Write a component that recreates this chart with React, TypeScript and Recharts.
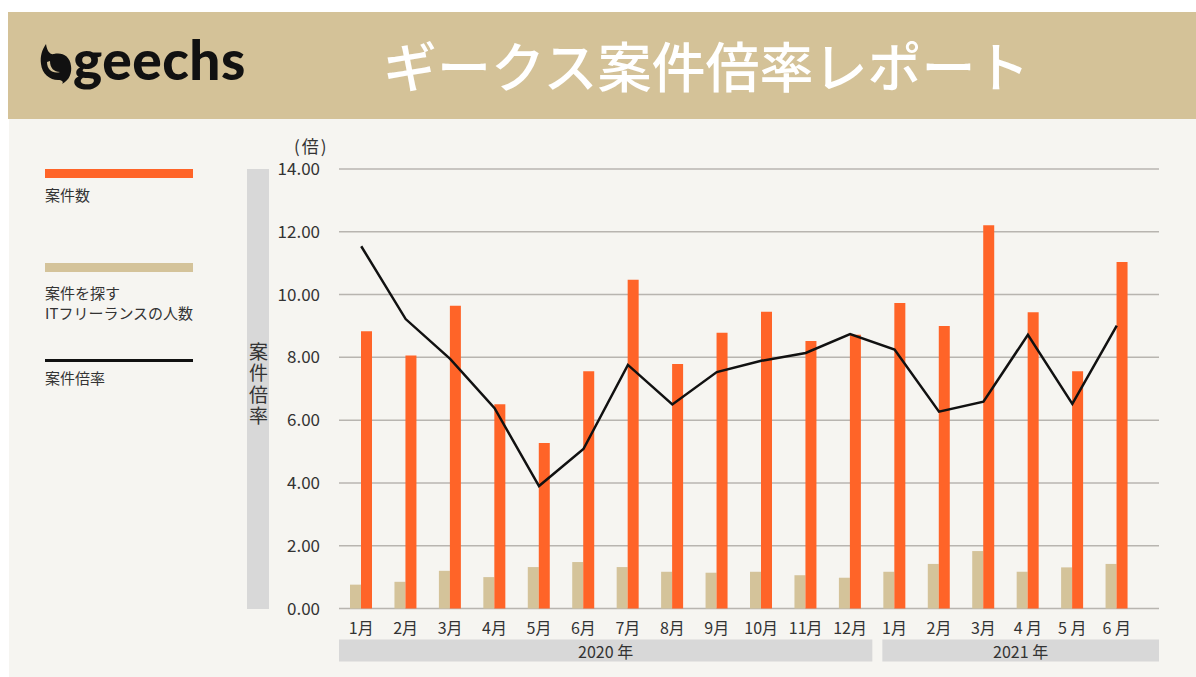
import { ComposedChart, Bar, Line, XAxis, YAxis, CartesianGrid } from 'recharts';

const months = ['1月', '2月', '3月', '4月', '5月', '6月', '7月', '8月', '9月', '10月', '11月', '12月', '1月', '2月', '3月', '4 月', '5 月', '6 月'];
const jobs = [8.83, 8.06, 9.64, 6.51, 5.27, 7.56, 10.47, 7.79, 8.78, 9.45, 8.52, 8.72, 9.73, 9.0, 12.21, 9.44, 7.56, 11.04];
const seekers = [0.76, 0.85, 1.2, 1.0, 1.32, 1.48, 1.32, 1.17, 1.14, 1.17, 1.06, 0.98, 1.17, 1.42, 1.83, 1.17, 1.31, 1.42];
const ratio = [11.54, 9.22, 7.95, 6.38, 3.9, 5.08, 7.76, 6.5, 7.53, 7.89, 8.14, 8.74, 8.25, 6.27, 6.59, 8.72, 6.52, 9.01];
const yTicks = [0, 2, 4, 6, 8, 10, 12, 14];
const years = ['2020 年', '2021 年'];

const data = months.map((m, i) => ({ month: m, key: i, jobs: jobs[i], seekers: seekers[i], ratio: ratio[i] }));

const ORANGE = '#FF6428';
const BEIGE = '#D4C39A';
const FONT = '"Noto Sans CJK JP", "Noto Sans", sans-serif';

// month label + the grey year band (drawn once, by the last month of each year)
function MonthTick(props: any) {
  const { x, y, payload, index } = props;
  const half = payload && payload.offset ? payload.offset : 22.2;
  let band = null;
  if (index === 11) {
    const x0 = x - 23 * half;
    const x1 = x + half;
    band = (
      <g>
        <rect x={x0} y={y + 31} width={x1 - x0} height={22} fill="#D8D8D8" />
        <text x={(x0 + x1) / 2} y={y + 42.5} textAnchor="middle" dominantBaseline="central" fontSize={16} fill="#333" fontFamily={FONT}>
          {years[0]}
        </text>
      </g>
    );
  }
  if (index === 17) {
    const x0 = x - 11 * half + 10;
    const x1 = x + half + 20;
    band = (
      <g>
        <rect x={x0} y={y + 31} width={x1 - x0} height={22} fill="#D8D8D8" />
        <text x={(x0 + x1) / 2} y={y + 42.5} textAnchor="middle" dominantBaseline="central" fontSize={16} fill="#333" fontFamily={FONT}>
          {years[1]}
        </text>
      </g>
    );
  }
  return (
    <g>
      {band}
      <text x={x} y={y + 18} textAnchor="middle" dominantBaseline="central" fontSize={16} fill="#333" fontFamily={FONT}>
        {months[index]}
      </text>
    </g>
  );
}

function Logo() {
  return (
    <div style={{ position: 'absolute', left: 40, top: 38, display: 'flex', alignItems: 'center' }}>
      <svg width={32} height={42} viewBox="0 0 32 42">
        <path d="M6 2 C2 8 0 14 1 22 C2 32 10 38 18 38 C22 38 24 40 22 42 C30 38 32 30 31 24 C30 14 22 10 14 12 C10 13 7 9 6 2 Z" fill="#111" />
        <path d="M7 20 C7 28 13 32 20 30 C14 30 10 26 10 19 Z" fill="#D4C298" />
      </svg>
      <div style={{ fontFamily: 'Lato, sans-serif', fontWeight: 900, fontSize: 55, color: '#111', lineHeight: '55px', marginLeft: 1, marginTop: -6, letterSpacing: 0.5 }}>
        geechs
      </div>
    </div>
  );
}

export default function App() {
  return (
    <div style={{ position: 'absolute', left: 0, top: 0, width: 1196, height: 677, background: '#fff', fontFamily: FONT, overflow: 'hidden' }}>
      <div style={{ position: 'absolute', left: 9, top: 119, width: 1187, height: 558, background: '#F6F5F1' }} />
      <div style={{ position: 'absolute', left: 8, top: 12, width: 1188, height: 107, background: '#D4C298' }} />
      <Logo />
      <div style={{ position: 'absolute', left: 383, top: 30, fontSize: 54, lineHeight: '70px', color: '#fff', fontWeight: 500, whiteSpace: 'nowrap' }}>
        ギークス案件倍率レポート
      </div>

      {/* legend */}
      <div style={{ position: 'absolute', left: 45, top: 169, width: 148, height: 9, background: ORANGE }} />
      <div style={{ position: 'absolute', left: 45, top: 185, fontSize: 15, lineHeight: '20px', color: '#333' }}>案件数</div>
      <div style={{ position: 'absolute', left: 45, top: 263, width: 148, height: 9, background: BEIGE }} />
      <div style={{ position: 'absolute', left: 45, top: 283, fontSize: 15, lineHeight: '19.5px', color: '#333', whiteSpace: 'nowrap' }}>
        案件を探す<br />ITフリーランスの人数
      </div>
      <div style={{ position: 'absolute', left: 45, top: 359, width: 148, height: 2.5, background: '#111' }} />
      <div style={{ position: 'absolute', left: 45, top: 368, fontSize: 15, lineHeight: '20px', color: '#333' }}>案件倍率</div>

      {/* y axis label */}
      <div style={{ position: 'absolute', left: 247, top: 169, width: 22, height: 440, background: '#D8D8D8' }} />
      <div style={{ position: 'absolute', left: 247, top: 342, width: 22, height: 90, fontSize: 19, lineHeight: '22px', color: '#333', writingMode: 'vertical-rl', letterSpacing: 2.5 }}>
        案件倍率
      </div>
      <div style={{ position: 'absolute', left: 294, top: 135, fontSize: 17, lineHeight: '22px', color: '#333', letterSpacing: 2 }}>(倍)</div>

      <div style={{ position: 'absolute', left: 0, top: 0 }}>
        <ComposedChart width={1196} height={677} data={data} margin={{ top: 169, right: 37, left: 270, bottom: 0 }} barGap={0}>
          <CartesianGrid vertical={false} stroke="#B8B5B0" strokeWidth={1.5} />
          <XAxis dataKey="key" interval={0} axisLine={false} tickLine={false} tickSize={0} tickMargin={0} height={68.5} padding={{ left: 0, right: 20 }} tick={<MonthTick />} />
          <YAxis domain={[0, 14]} ticks={yTicks} width={69} axisLine={false} tickLine={false} tickSize={0} tickMargin={19}
            tickFormatter={(v: number) => v.toFixed(2)} tick={{ fontSize: 17, fill: '#333', fontFamily: FONT }} />
          <Bar dataKey="seekers" name="案件を探すITフリーランスの人数" fill={BEIGE} barSize={11} isAnimationActive={false} />
          <Bar dataKey="jobs" name="案件数" fill={ORANGE} barSize={11} isAnimationActive={false} />
          <Line dataKey="ratio" name="案件倍率" type="linear" stroke="#111" strokeWidth={2.5} dot={false} isAnimationActive={false} />
        </ComposedChart>
      </div>
    </div>
  );
}
